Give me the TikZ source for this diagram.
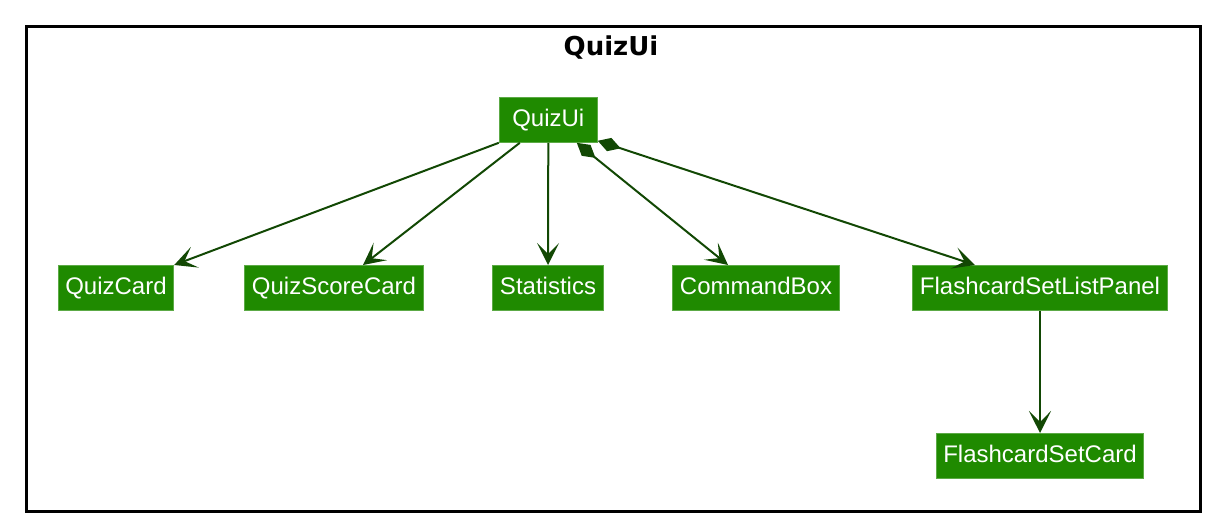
\documentclass[tikz,border=0pt]{standalone}
\usepackage{fontspec}
\setmainfont{Liberation Sans}
\newfontfamily\titlefont{DejaVu Sans}
\usepackage{xcolor}
\usetikzlibrary{arrows.meta,calc}

\definecolor{clsfill}{RGB}{31,138,0}
\definecolor{clsline}{RGB}{92,170,70}
\definecolor{edgecol}{RGB}{18,72,4}

\tikzset{
  cls/.style={fill=clsfill, draw=clsline, line width=0.5pt, text=white,
    font=\fontsize{12}{14}\selectfont, inner xsep=3.5pt, inner ysep=0pt,
    text height=8.8pt, text depth=2.2pt, minimum height=22.5pt},
  assoc/.style={draw=edgecol, line width=1pt,
    -{Stealth[length=11pt, width=11pt, inset=5.5pt]}},
  comp/.style={draw=edgecol, line width=1pt,
    {Diamond[length=12pt, width=7pt]}-{Stealth[length=11pt, width=11pt, inset=5.5pt]}}
}

\begin{document}
\begin{tikzpicture}[x=0.5pt, y=-0.5pt]
    \useasboundingbox (0,0) rectangle (1216,526);

    % Package frame
    \draw[line width=1.5pt] (26.5,26.5) rectangle (1200,511.5);
    \node (title) at (611,48) [font=\titlefont\bfseries\fontsize{13}{15}\selectfont] {QuizUi};

    % Classes
    \node (quizui) at (548.3,119.8) [cls, minimum width=49pt] {QuizUi};
    \node (quizcard) at (116,288) [cls] {QuizCard};
    \node (scorecard) at (334,288) [cls] {QuizScoreCard};
    \node (stats) at (548,288) [cls] {Statistics};
    \node (cmdbox) at (756,288) [cls] {CommandBox};
    \node (listpanel) at (1040,288) [cls] {FlashcardSetListPanel};
    \node (setcard) at (1040,456) [cls] {FlashcardSetCard};

    % Associations
    \draw[assoc] (quizui.south west) -- (quizcard.north east);
    \draw[assoc] ($(quizui.south west)+(21,0)$) -- ($(scorecard.north)+(29,0)$);
    \draw[assoc] (quizui.south) -- (stats.north);
    \draw[assoc] (listpanel.south) -- (setcard.north);

    % Compositions
    \draw[comp] ($(quizui.south east)+(-21,0)$) -- ($(cmdbox.north)+(-28,0)$);
    \draw[comp] ($(quizui.south east)+(0,-2)$) -- ($(listpanel.north)+(-65,0)$);

\end{tikzpicture}
\end{document}
